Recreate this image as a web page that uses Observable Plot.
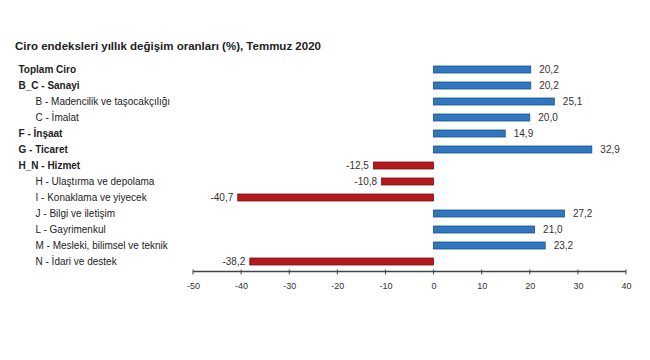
<!DOCTYPE html>
<html>
<head>
<meta charset="utf-8">
<script src="https://cdn.jsdelivr.net/npm/d3@7"></script>
<script src="https://cdn.jsdelivr.net/npm/@observablehq/plot@0.6"></script>
<style>
  body { margin: 0; background: #fff; font-family: "Liberation Sans", Arial, sans-serif; }
  #title { height: 56px; box-sizing: border-box; padding-top: 39px; padding-left: 15px; font-size: 11.5px; font-weight: bold; line-height: 14px; color: #222; }
</style>
</head>
<body>
<div id="title">Ciro endeksleri yıllık değişim oranları (%), Temmuz 2020</div>
<div id="chart"></div>
<script>
const categories = [
  "Toplam Ciro",
  "B_C - Sanayi",
  "B - Madencilik ve taşocakçılığı",
  "C - İmalat",
  "F - İnşaat",
  "G - Ticaret",
  "H_N - Hizmet",
  "H - Ulaştırma ve depolama",
  "I - Konaklama ve yiyecek",
  "J - Bilgi ve iletişim",
  "L - Gayrimenkul",
  "M - Mesleki, bilimsel ve teknik",
  "N - İdari ve destek"
];
const values = [20.2, 20.2, 25.1, 20.0, 14.9, 32.9, -12.5, -10.8, -40.7, 27.2, 21.0, 23.2, -38.2];
const isSubsector = [false, false, true, true, false, false, false, true, true, true, true, true, true];
const xTicks = [-50, -40, -30, -20, -10, 0, 10, 20, 30, 40];

const data = categories.map((c, i) => ({category: c, value: values[i], sub: isSubsector[i]}));
const fmt = v => d3.format(".1f")(v).replace(".", ",").replace("\u2212", "-");

// bottom axis baseline drawn from the x scale and the frame dimensions
const axisLine = (index, scales, values, dims) => {
  const a = scales.x(xTicks[0]);
  const b = scales.x(xTicks[xTicks.length - 1]);
  const yPos = Math.round(dims.height - dims.marginBottom) + 1.5;
  const g = d3.create("svg:g");
  g.append("line")
    .attr("x1", a).attr("x2", b)
    .attr("y1", yPos).attr("y2", yPos)
    .attr("stroke", "#444").attr("stroke-width", 1.3);
  for (const t of xTicks) {
    g.append("line")
      .attr("x1", scales.x(t)).attr("x2", scales.x(t))
      .attr("y1", yPos - 2).attr("y2", yPos + 3)
      .attr("stroke", "#444").attr("stroke-width", 1);
  }
  return g.node();
};

const chart = Plot.plot({
  width: 650,
  height: 304,
  marginLeft: 193,
  marginRight: 24,
  marginTop: 5,
  marginBottom: 90,
  style: {fontFamily: "'Liberation Sans', Arial, sans-serif", background: "#fff"},
  x: {domain: [-50, 40], axis: null},
  y: {domain: categories, paddingInner: 0.58, paddingOuter: 0.29, axis: null},
  marks: [
    Plot.barX(data, {
      x: "value", y: "category",
      fill: d => d.value >= 0 ? "#2f78c0" : "#b5191d",
      stroke: d => d.value >= 0 ? "#1c4f86" : "#7a1012",
      strokeWidth: 0.8
    }),
    Plot.ruleX([0], {y1: categories[0], y2: categories[categories.length - 1], stroke: "#8a8a8a", strokeWidth: 1.5, insetTop: -7, insetBottom: -11}),
    axisLine,
    Plot.axisX({ticks: xTicks, tickSize: 0, tickPadding: 12, fontSize: 9, tickFormat: d => String(d), color: "#333", label: null}),
    Plot.text(data.filter(d => d.value >= 0), {x: "value", y: "category", text: d => fmt(d.value), textAnchor: "start", dx: 8, fontSize: 10, fill: "#333"}),
    Plot.text(data.filter(d => d.value < 0), {x: "value", y: "category", text: d => fmt(d.value), textAnchor: "end", dx: -5, fontSize: 10, fill: "#333"}),
    Plot.text(data.filter(d => !d.sub), {y: "category", text: "category", frameAnchor: "left", textAnchor: "start", dx: -175, fontSize: 10, fontWeight: "bold", fill: "#222"}),
    Plot.text(data.filter(d => d.sub), {y: "category", text: "category", frameAnchor: "left", textAnchor: "start", dx: -158, fontSize: 10, fill: "#222"})
  ]
});
document.getElementById("chart").appendChild(chart);
</script>
</body>
</html>
